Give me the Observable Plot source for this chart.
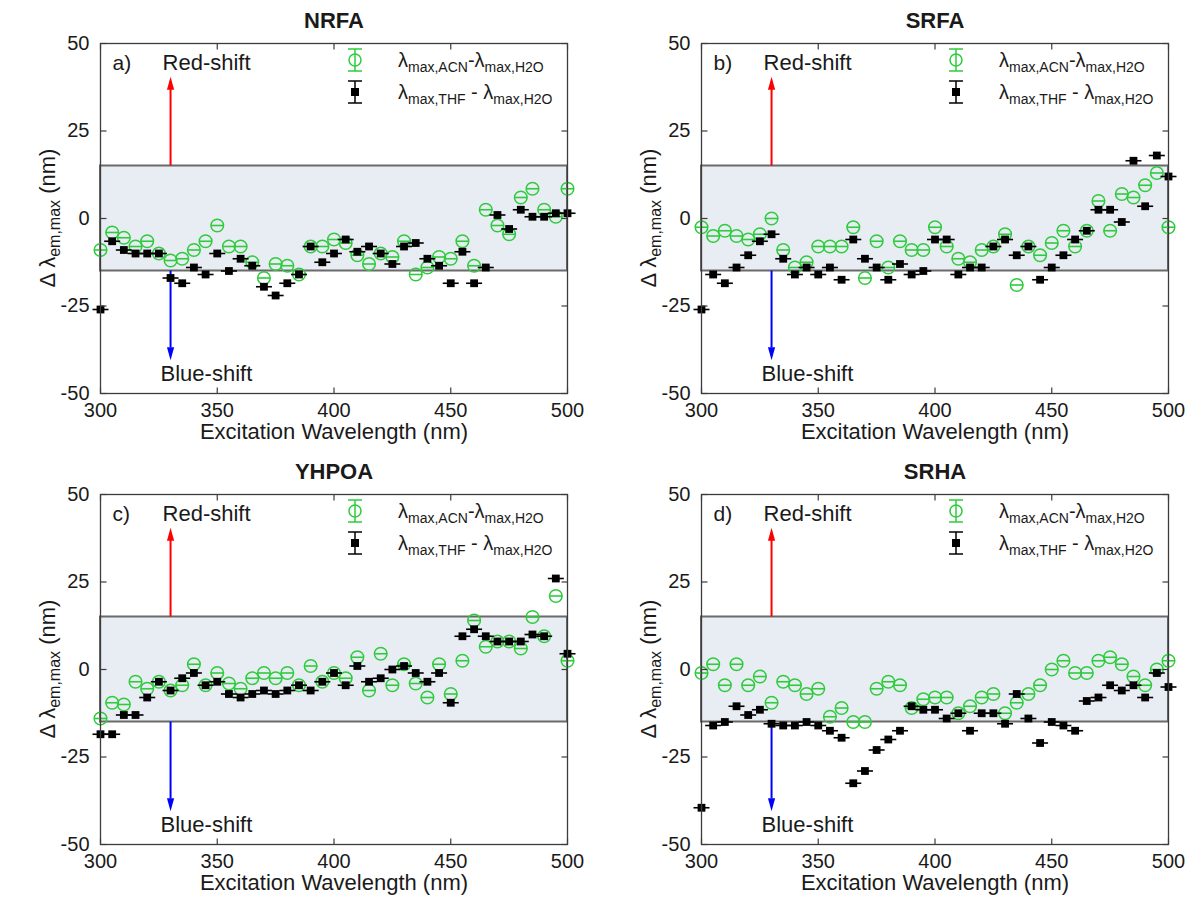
<!DOCTYPE html>
<html><head><meta charset="utf-8">
<script src="https://cdn.jsdelivr.net/npm/d3@7"></script>
<script src="https://cdn.jsdelivr.net/npm/@observablehq/plot@0.6"></script>
<style>
body{margin:0;background:#fff;}
#chart{position:relative;width:1189px;height:913px;font-family:"Liberation Sans",Arial,Helvetica,sans-serif;color:#1a1a1a;overflow:hidden;}
.panel{position:absolute;}
.panel svg{overflow:visible;}
.ylab{position:absolute;transform:translate(-50%,-50%) rotate(-90deg);white-space:nowrap;font-size:22px;}
.ylab .sb{font-size:16px;position:relative;top:5px;}
.leg{position:absolute;white-space:nowrap;font-size:20px;display:flex;align-items:center;transform:translateY(-50%);}
.leg .sb{font-size:14px;position:relative;top:5px;}
.leg .txt{margin-left:33px;}
</style>
</head><body>
<div id="chart"></div>
<script>
// ---------------- data ----------------
const wavelengths = [300,305,310,315,320,325,330,335,340,345,350,355,360,365,370,375,380,385,390,395,400,405,410,415,420,425,430,435,440,445,450,455,460,465,470,475,480,485,490,495,500];
const xTicks = [300, 350, 400, 450, 500];
const yTicks = [-50, -25, 0, 25, 50];
const bandLimits = {lo: -15, hi: 15};

const acnNRFA = [-9,-4,-5.5,-8,-6.5,-10,-12,-11.5,-9,-6.5, -2,-8,-8,-12.5,-17,-13,-13.5,-16,-8,-8, -6,-7,-10.5,-13,-10,-11,-6.5,-16,-14,-11, -11.5,-6.5,-13.5,2.5,-2,-4.5,6,8.5,2.5,0.5, 8.5];
const thfNRFA = [-26,-6.5,-9,-10,-10,-10,-17,-18.5,-14,-16, -10,-15,-11.5,-13.5,-19.5,-22,-18.5,-16,-8,-12.5, -10,-6,-9.5,-8,-10,-13,-8,-7,-11.5,-13.5, -18.5,-9.5,-18.5,-14,1,-3,2.5,0.5,0.5,1.5, 1.5];

const acnSRFA = [-2.5,-5,-3.5,-5,-6,-4.5,0,-9,-14,-12.5, -8,-8,-8,-2.5,-17,-6.5,-14,-6.5,-9,-9, -2.5,-8,-11.5,-12.5,-9,-8,-4.5,-19,-8,-10.5, -7,-3.5,-8,-3.5,5,-3.5,7,6,9.5,13, -2.5];
const thfSRFA = [-26,-16,-18.5,-14,-10.5,-6.5,-4.5,-11.5,-16,-14, -16,-14,-17.5,-6,-11.5,-14,-17.5,-13,-16,-15, -6,-6,-16,-14,-14,-8,-6,-10.5,-8,-17.5, -14,-10.5,-6,-3.5,2.5,2.5,-1,16.5,3.5,18, 12];

const acnYHPOA = [-14,-9.5,-10,-3.5,-5.5,-3.5,-6,-4.5,1.5,-4.5, -1,-4,-5.5,-2.5,-1,-2.5,-1,-4.5,1,-3.5, -1,-2.5,3.5,-6,4.5,-4.5,1.5,-4,-8,1.5, -7,2.5,14,6.5,8,8,6,15,9.5,21, 2.5];
const thfYHPOA = [-18.5,-18.5,-13,-13,-8,-3.5,-6,-2.5,-1,-4.5, -3.5,-7,-8,-7,-6,-7,-6,-4.5,-6,-3.5, -1,-4.5,1,-3.5,-2.5,0,1,-1,-3.5,-1, -9.5,9.5,11.5,9.5,8,8,8,10,9.5,26, 4.5];

const acnSRHA = [-1,1.5,-4.5,1.5,-4.5,-2,-9.5,-3.5,-4.5,-7, -5.5,-13.5,-11,-15,-15,-5.5,-3.5,-4.5,-11,-8.5, -8,-8,-12.5,-10.5,-8,-7,-12.5,-9.5,-7,-4.5, 0,2.5,-1,-1,2.5,3.5,1.5,-2,-4.5,0, 2.5];
const thfSRHA = [-39.5,-16,-15,-10.5,-13,-11.5,-15.5,-16,-16,-15, -16,-17.5,-19.5,-32.5,-29,-23,-20,-17.5,-10.5,-11.5, -11.5,-14,-12.5,-17.5,-12.5,-12.5,-15.5,-7,-14,-21, -15,-16,-17.5,-9,-8,-4.5,-6,-4.5,-8,-1, -5];

const titles = ["NRFA", "SRFA", "YHPOA", "SRHA"];
const panelLabels = ["a)", "b)", "c)", "d)"];
const shiftLabels = ["Red-shift", "Blue-shift"];
const xLabel = "Excitation Wavelength (nm)";

// ---------------- styling / layout ----------------
const GREEN = "#2ecc3c";
const FONT = "'Liberation Sans', Arial, Helvetica, sans-serif";
const layout = [
  {left: 0,   top: 0,   width: 595, height: 456, mL: 100, mR: 28, mT: 43, mB: 63},
  {left: 595, top: 0,   width: 594, height: 456, mL: 106, mR: 21, mT: 43, mB: 63},
  {left: 0,   top: 451, width: 595, height: 462, mL: 100, mR: 28, mT: 43, mB: 69},
  {left: 595, top: 451, width: 594, height: 462, mL: 106, mR: 21, mT: 43, mB: 69}
];
const series = [[acnNRFA, thfNRFA], [acnSRFA, thfSRFA], [acnYHPOA, thfYHPOA], [acnSRHA, thfSRHA]];

// custom symbols
const hLine = w => ({draw(ctx){ ctx.moveTo(-w/2, 0); ctx.lineTo(w/2, 0); }});
const vTick = len => ({draw(ctx){ ctx.moveTo(0, 0); ctx.lineTo(0, len); }});
const hTick = len => ({draw(ctx){ ctx.moveTo(0, 0); ctx.lineTo(len, 0); }});
const headUp = {draw(ctx){ ctx.moveTo(0, 0); ctx.lineTo(-3.6, 13); ctx.lineTo(3.6, 13); ctx.closePath(); }};
const headDown = {draw(ctx){ ctx.moveTo(0, 0); ctx.lineTo(-3.6, -13); ctx.lineTo(3.6, -13); ctx.closePath(); }};

const chart = document.getElementById("chart");

function makePanel(i){
  const L = layout[i];
  const [acn, thf] = series[i];
  const acnData = wavelengths.map((x, k) => ({x, y: acn[k]}));
  const thfData = wavelengths.map((x, k) => ({x, y: thf[k]}));
  const axisColor = "#3c3c3c";
  const plot = Plot.plot({
    width: L.width, height: L.height,
    marginLeft: L.mL, marginRight: L.mR, marginTop: L.mT, marginBottom: L.mB,
    style: {fontSize: "20px", fontFamily: FONT, color: "#1a1a1a", background: "transparent"},
    x: {domain: [300, 500], ticks: xTicks, tickSize: 0, tickPadding: 9, tickFormat: d => String(d), label: null},
    y: {domain: [-50, 50], ticks: yTicks, tickSize: 0, tickPadding: 11, tickFormat: d => String(d), label: null},
    marks: [
      Plot.rect([bandLimits], {x1: 300, x2: 500, y1: "lo", y2: "hi", fill: "#e8ecf3", stroke: "#6a6a6a", strokeWidth: 2}),
      // arrows
      Plot.ruleX([330], {x: d => d, y1: bandLimits.hi, y2: 37, stroke: "#ff0000", strokeWidth: 2}),
      Plot.dot([330], {x: d => d, y: 40.5, symbol: headUp, fill: "#ff0000", stroke: "none"}),
      Plot.ruleX([330], {x: d => d, y1: bandLimits.lo, y2: -37, stroke: "#0000ff", strokeWidth: 2}),
      Plot.dot([330], {x: d => d, y: -40.5, symbol: headDown, fill: "#0000ff", stroke: "none"}),
      Plot.text([shiftLabels[0]], {x: 330, y: 44.3, dx: -8, text: d => d, textAnchor: "start", lineAnchor: "middle", fontSize: 22}),
      Plot.text([shiftLabels[1]], {x: 330, y: -44.3, dx: -10, text: d => d, textAnchor: "start", lineAnchor: "middle", fontSize: 22}),
      // ACN series: circles with (tiny) error bars
      Plot.dot(acnData, {x: "x", y: "y", symbol: hLine(13), stroke: GREEN, strokeWidth: 1.6, fill: "none"}),
      Plot.dot(acnData, {x: "x", y: "y", r: 6.3, stroke: GREEN, strokeWidth: 1.5, fill: "none"}),
      // THF series: squares with (tiny) error bars
      Plot.dot(thfData, {x: "x", y: "y", symbol: hLine(16), stroke: "#000", strokeWidth: 1.6, fill: "none"}),
      Plot.dot(thfData, {x: "x", y: "y", symbol: "square", r: 4.4, fill: "#000", stroke: "none"}),
      // inward ticks (box style)
      Plot.dot(xTicks, {x: d => d, frameAnchor: "bottom", symbol: vTick(-6), stroke: axisColor, strokeWidth: 1.2, fill: "none"}),
      Plot.dot(xTicks, {x: d => d, frameAnchor: "top", symbol: vTick(6), stroke: axisColor, strokeWidth: 1.2, fill: "none"}),
      Plot.dot(yTicks, {y: d => d, frameAnchor: "left", symbol: hTick(6), stroke: axisColor, strokeWidth: 1.2, fill: "none"}),
      Plot.dot(yTicks, {y: d => d, frameAnchor: "right", symbol: hTick(-6), stroke: axisColor, strokeWidth: 1.2, fill: "none"}),
      Plot.frame({stroke: axisColor, strokeWidth: 1.3}),
      // titles and labels
      Plot.text([titles[i]], {frameAnchor: "top", dy: -23, lineAnchor: "middle", text: d => d, fontSize: 22, fontWeight: "bold"}),
      Plot.text([panelLabels[i]], {frameAnchor: "top-left", dx: 12, dy: 20, lineAnchor: "middle", text: d => d, textAnchor: "start", fontSize: 21}),
      Plot.text([xLabel], {frameAnchor: "bottom", dy: 38, lineAnchor: "middle", text: d => d, fontSize: 22})
    ]
  });
  const wrap = document.createElement("div");
  wrap.className = "panel";
  wrap.style.left = L.left + "px";
  wrap.style.top = L.top + "px";
  wrap.style.width = L.width + "px";
  wrap.style.height = L.height + "px";
  wrap.appendChild(plot);

  // y-axis label
  const yl = document.createElement("div");
  yl.className = "ylab";
  yl.style.left = (L.mL - 52) + "px";
  yl.style.top = (L.mT + 175) + "px";
  yl.innerHTML = "&Delta; &lambda;<span class='sb'>em,max</span> (nm)";
  wrap.appendChild(yl);

  // legend
  const legItems = [
    {dy: 17, icon: `<svg width="20" height="26" viewBox="-10 -13 20 26"><line x1="0" y1="-11" x2="0" y2="11" stroke="${GREEN}" stroke-width="1.5"/><line x1="-7" y1="-11" x2="7" y2="-11" stroke="${GREEN}" stroke-width="1.5"/><line x1="-7" y1="11" x2="7" y2="11" stroke="${GREEN}" stroke-width="1.5"/><circle r="6" fill="none" stroke="${GREEN}" stroke-width="1.5"/></svg>`,
     html: "&lambda;<span class='sb'>max,ACN</span>-&lambda;<span class='sb'>max,H2O</span>"},
    {dy: 49, icon: `<svg width="20" height="26" viewBox="-10 -13 20 26"><line x1="0" y1="-11" x2="0" y2="11" stroke="#000" stroke-width="1.5"/><line x1="-7" y1="-11" x2="7" y2="-11" stroke="#000" stroke-width="1.5"/><line x1="-7" y1="11" x2="7" y2="11" stroke="#000" stroke-width="1.5"/><rect x="-4" y="-4" width="8" height="8" fill="#000"/></svg>`,
     html: "&lambda;<span class='sb'>max,THF</span> - &lambda;<span class='sb'>max,H2O</span>"}
  ];
  for (const it of legItems){
    const d = document.createElement("div");
    d.className = "leg";
    d.style.left = (L.mL + 245) + "px";
    d.style.top = (L.mT + it.dy) + "px";
    d.innerHTML = it.icon + "<span class='txt'>" + it.html + "</span>";
    wrap.appendChild(d);
  }
  chart.appendChild(wrap);
}
for (let i = 0; i < 4; i++) makePanel(i);
</script>
</body></html>
